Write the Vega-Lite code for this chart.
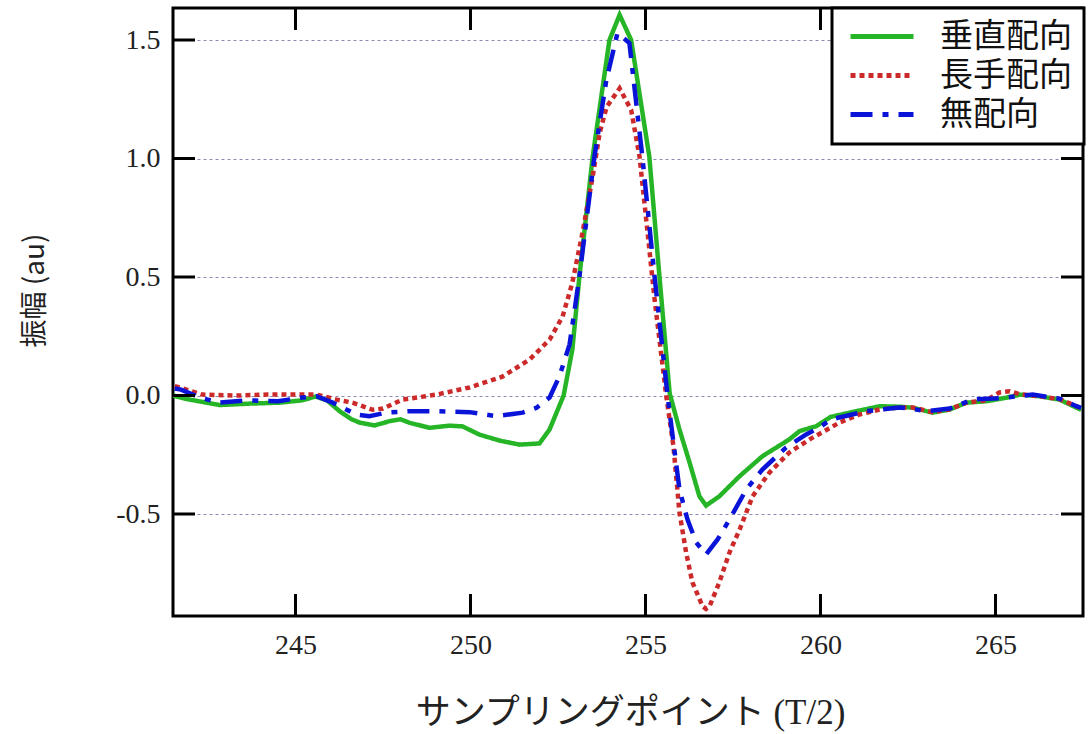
{
  "$schema": "https://vega.github.io/schema/vega-lite/v6.json",
  "width": 910,
  "height": 608,
  "autosize": {"type": "none"},
  "padding": {"left": 173, "top": 8, "right": 9, "bottom": 118},
  "background": "white",
  "config": {
    "view": {"stroke": "black", "strokeWidth": 3},
    "font": "Liberation Serif"
  },
  "data": {
    "values": [
      {"s": "垂直配向", "x": 241.5, "y": 0.0},
      {"s": "垂直配向", "x": 241.9, "y": -0.015},
      {"s": "垂直配向", "x": 242.83, "y": -0.04},
      {"s": "垂直配向", "x": 243.69, "y": -0.034},
      {"s": "垂直配向", "x": 244.54, "y": -0.03},
      {"s": "垂直配向", "x": 245.2, "y": -0.02},
      {"s": "垂直配向", "x": 245.57, "y": -0.004},
      {"s": "垂直配向", "x": 245.9, "y": -0.02},
      {"s": "垂直配向", "x": 246.26, "y": -0.066},
      {"s": "垂直配向", "x": 246.6, "y": -0.1},
      {"s": "垂直配向", "x": 246.83, "y": -0.114},
      {"s": "垂直配向", "x": 247.26, "y": -0.126},
      {"s": "垂直配向", "x": 247.69, "y": -0.108},
      {"s": "垂直配向", "x": 248.0, "y": -0.1},
      {"s": "垂直配向", "x": 248.26, "y": -0.115},
      {"s": "垂直配向", "x": 248.83, "y": -0.136},
      {"s": "垂直配向", "x": 249.4, "y": -0.127},
      {"s": "垂直配向", "x": 249.77, "y": -0.13},
      {"s": "垂直配向", "x": 250.26, "y": -0.165},
      {"s": "垂直配向", "x": 250.83, "y": -0.19},
      {"s": "垂直配向", "x": 251.4, "y": -0.207},
      {"s": "垂直配向", "x": 251.97, "y": -0.202},
      {"s": "垂直配向", "x": 252.26, "y": -0.143},
      {"s": "垂直配向", "x": 252.66, "y": 0.0},
      {"s": "垂直配向", "x": 252.91, "y": 0.194},
      {"s": "垂直配向", "x": 253.11, "y": 0.5},
      {"s": "垂直配向", "x": 253.49, "y": 1.007},
      {"s": "垂直配向", "x": 253.97, "y": 1.5},
      {"s": "垂直配向", "x": 254.26, "y": 1.606},
      {"s": "垂直配向", "x": 254.59, "y": 1.5},
      {"s": "垂直配向", "x": 255.11, "y": 1.007},
      {"s": "垂直配向", "x": 255.4, "y": 0.5},
      {"s": "垂直配向", "x": 255.69, "y": 0.01},
      {"s": "垂直配向", "x": 255.97, "y": -0.143},
      {"s": "垂直配向", "x": 256.26, "y": -0.283},
      {"s": "垂直配向", "x": 256.54, "y": -0.425},
      {"s": "垂直配向", "x": 256.73, "y": -0.464},
      {"s": "垂直配向", "x": 257.11, "y": -0.425},
      {"s": "垂直配向", "x": 257.69, "y": -0.34},
      {"s": "垂直配向", "x": 258.34, "y": -0.256},
      {"s": "垂直配向", "x": 259.11, "y": -0.185},
      {"s": "垂直配向", "x": 259.4, "y": -0.15},
      {"s": "垂直配向", "x": 259.88, "y": -0.129},
      {"s": "垂直配向", "x": 260.29, "y": -0.09},
      {"s": "垂直配向", "x": 261.02, "y": -0.066},
      {"s": "垂直配向", "x": 261.69, "y": -0.045},
      {"s": "垂直配向", "x": 262.26, "y": -0.047},
      {"s": "垂直配向", "x": 262.63, "y": -0.051},
      {"s": "垂直配向", "x": 263.2, "y": -0.072},
      {"s": "垂直配向", "x": 263.69, "y": -0.059},
      {"s": "垂直配向", "x": 264.17, "y": -0.03},
      {"s": "垂直配向", "x": 264.74, "y": -0.024},
      {"s": "垂直配向", "x": 265.31, "y": -0.009},
      {"s": "垂直配向", "x": 265.69, "y": 0.004},
      {"s": "垂直配向", "x": 266.26, "y": -0.003},
      {"s": "垂直配向", "x": 266.83, "y": -0.017},
      {"s": "垂直配向", "x": 267.31, "y": -0.051},
      {"s": "垂直配向", "x": 267.45, "y": -0.06},

      {"s": "長手配向", "x": 241.55, "y": 0.04},
      {"s": "長手配向", "x": 241.69, "y": 0.034},
      {"s": "長手配向", "x": 242.34, "y": 0.004},
      {"s": "長手配向", "x": 243.3, "y": 0.0},
      {"s": "長手配向", "x": 244.2, "y": 0.004},
      {"s": "長手配向", "x": 245.2, "y": 0.004},
      {"s": "長手配向", "x": 245.6, "y": 0.004},
      {"s": "長手配向", "x": 246.17, "y": -0.017},
      {"s": "長手配向", "x": 246.63, "y": -0.03},
      {"s": "長手配向", "x": 247.2, "y": -0.06},
      {"s": "長手配向", "x": 247.5, "y": -0.055},
      {"s": "長手配向", "x": 248.06, "y": -0.017},
      {"s": "長手配向", "x": 249.03, "y": 0.004},
      {"s": "長手配向", "x": 249.97, "y": 0.034},
      {"s": "長手配向", "x": 250.91, "y": 0.08},
      {"s": "長手配向", "x": 251.69, "y": 0.152},
      {"s": "長手配向", "x": 252.26, "y": 0.236},
      {"s": "長手配向", "x": 252.63, "y": 0.333},
      {"s": "長手配向", "x": 252.91, "y": 0.476},
      {"s": "長手配向", "x": 253.2, "y": 0.687},
      {"s": "長手配向", "x": 253.49, "y": 0.923},
      {"s": "長手配向", "x": 253.69, "y": 1.108},
      {"s": "長手配向", "x": 253.89, "y": 1.218},
      {"s": "長手配向", "x": 254.26, "y": 1.296},
      {"s": "長手配向", "x": 254.59, "y": 1.205},
      {"s": "長手配向", "x": 254.83, "y": 1.007},
      {"s": "長手配向", "x": 255.06, "y": 0.687},
      {"s": "長手配向", "x": 255.26, "y": 0.405},
      {"s": "長手配向", "x": 255.6, "y": -0.01},
      {"s": "長手配向", "x": 255.8, "y": -0.215},
      {"s": "長手配向", "x": 255.97, "y": -0.493},
      {"s": "長手配向", "x": 256.16, "y": -0.662},
      {"s": "長手配向", "x": 256.34, "y": -0.788},
      {"s": "長手配向", "x": 256.63, "y": -0.889},
      {"s": "長手配向", "x": 256.73, "y": -0.9},
      {"s": "長手配向", "x": 256.83, "y": -0.889},
      {"s": "長手配向", "x": 257.11, "y": -0.788},
      {"s": "長手配向", "x": 257.4, "y": -0.662},
      {"s": "長手配向", "x": 257.69, "y": -0.565},
      {"s": "長手配向", "x": 258.06, "y": -0.425},
      {"s": "長手配向", "x": 258.54, "y": -0.325},
      {"s": "長手配向", "x": 259.11, "y": -0.24},
      {"s": "長手配向", "x": 259.69, "y": -0.185},
      {"s": "長手配向", "x": 260.17, "y": -0.145},
      {"s": "長手配向", "x": 260.54, "y": -0.114},
      {"s": "長手配向", "x": 261.11, "y": -0.08},
      {"s": "長手配向", "x": 261.69, "y": -0.059},
      {"s": "長手配向", "x": 262.26, "y": -0.05},
      {"s": "長手配向", "x": 262.63, "y": -0.05},
      {"s": "長手配向", "x": 263.2, "y": -0.07},
      {"s": "長手配向", "x": 263.69, "y": -0.058},
      {"s": "長手配向", "x": 264.17, "y": -0.03},
      {"s": "長手配向", "x": 264.74, "y": -0.02},
      {"s": "長手配向", "x": 265.11, "y": 0.013},
      {"s": "長手配向", "x": 265.4, "y": 0.018},
      {"s": "長手配向", "x": 265.69, "y": 0.006},
      {"s": "長手配向", "x": 266.26, "y": -0.003},
      {"s": "長手配向", "x": 266.83, "y": -0.015},
      {"s": "長手配向", "x": 267.31, "y": -0.045},
      {"s": "長手配向", "x": 267.45, "y": -0.055},

      {"s": "無配向", "x": 241.55, "y": 0.03},
      {"s": "無配向", "x": 241.73, "y": 0.025},
      {"s": "無配向", "x": 242.26, "y": -0.008},
      {"s": "無配向", "x": 242.83, "y": -0.03},
      {"s": "無配向", "x": 243.6, "y": -0.02},
      {"s": "無配向", "x": 244.5, "y": -0.024},
      {"s": "無配向", "x": 245.2, "y": -0.008},
      {"s": "無配向", "x": 245.6, "y": -0.003},
      {"s": "無配向", "x": 246.06, "y": -0.03},
      {"s": "無配向", "x": 246.74, "y": -0.08},
      {"s": "無配向", "x": 247.11, "y": -0.087},
      {"s": "無配向", "x": 247.6, "y": -0.072},
      {"s": "無配向", "x": 248.26, "y": -0.066},
      {"s": "無配向", "x": 249.11, "y": -0.066},
      {"s": "無配向", "x": 249.97, "y": -0.07},
      {"s": "無配向", "x": 250.74, "y": -0.087},
      {"s": "無配向", "x": 251.49, "y": -0.072},
      {"s": "無配向", "x": 251.89, "y": -0.051},
      {"s": "無配向", "x": 252.26, "y": -0.008},
      {"s": "無配向", "x": 252.54, "y": 0.081},
      {"s": "無配向", "x": 252.83, "y": 0.215},
      {"s": "無配向", "x": 253.11, "y": 0.5},
      {"s": "無配向", "x": 253.54, "y": 1.007},
      {"s": "無配向", "x": 253.88, "y": 1.33},
      {"s": "無配向", "x": 254.2, "y": 1.53},
      {"s": "無配向", "x": 254.54, "y": 1.487},
      {"s": "無配向", "x": 254.91, "y": 1.007},
      {"s": "無配向", "x": 255.26, "y": 0.5},
      {"s": "無配向", "x": 255.63, "y": 0.0},
      {"s": "無配向", "x": 255.69, "y": -0.072},
      {"s": "無配向", "x": 255.97, "y": -0.396},
      {"s": "無配向", "x": 256.2, "y": -0.523},
      {"s": "無配向", "x": 256.45, "y": -0.62},
      {"s": "無配向", "x": 256.73, "y": -0.67},
      {"s": "無配向", "x": 257.06, "y": -0.607},
      {"s": "無配向", "x": 257.4, "y": -0.523},
      {"s": "無配向", "x": 257.88, "y": -0.396},
      {"s": "無配向", "x": 258.34, "y": -0.312},
      {"s": "無配向", "x": 259.02, "y": -0.219},
      {"s": "無配向", "x": 259.59, "y": -0.164},
      {"s": "無配向", "x": 259.97, "y": -0.135},
      {"s": "無配向", "x": 260.29, "y": -0.101},
      {"s": "無配向", "x": 261.3, "y": -0.066},
      {"s": "無配向", "x": 262.26, "y": -0.05},
      {"s": "無配向", "x": 262.73, "y": -0.059},
      {"s": "無配向", "x": 263.0, "y": -0.066},
      {"s": "無配向", "x": 263.69, "y": -0.055},
      {"s": "無配向", "x": 264.34, "y": -0.017},
      {"s": "無配向", "x": 265.2, "y": -0.01},
      {"s": "無配向", "x": 266.06, "y": 0.004},
      {"s": "無配向", "x": 266.83, "y": -0.013},
      {"s": "無配向", "x": 267.31, "y": -0.045},
      {"s": "無配向", "x": 267.45, "y": -0.052}
    ]
  },
  "layer": [
    {
      "mark": {"type": "line", "strokeWidth": 4.5, "clip": true},
      "encoding": {
        "x": {
          "field": "x", "type": "quantitative",
          "scale": {"domain": [241.5, 267.5], "nice": false, "zero": false},
          "axis": {
            "values": [245, 250, 255, 260, 265],
            "title": "サンプリングポイント (T/2)",
            "titleFont": "Liberation Serif, Noto Sans CJK JP",
            "titleFontSize": 35, "titleFontWeight": "normal", "titleColor": "#222",
            "titleX": 457, "titleY": 96, "titleBaseline": "middle",
            "grid": false, "domain": false, "ticks": false,
            "labelFont": "Liberation Serif", "labelFontSize": 28, "labelColor": "#222",
            "labelPadding": 15
          }
        },
        "y": {
          "field": "y", "type": "quantitative",
          "scale": {"domain": [-0.93, 1.635], "nice": false, "zero": false},
          "axis": {
            "values": [-0.5, 0, 0.5, 1.0, 1.5],
            "labelExpr": "replace(format(datum.value, '.1f'), '−', '-')",
            "title": "振幅 (au)",
            "titleFont": "Noto Sans CJK JP",
            "titleFontSize": 28, "titleFontWeight": "normal", "titleColor": "#222",
            "titleX": -138, "titleY": 282, "titleAlign": "center", "titleBaseline": "middle",
            "grid": true, "gridDash": [3, 3], "gridColor": "#8a8ab4", "gridWidth": 1,
            "domain": false, "ticks": false,
            "labelFont": "Liberation Serif", "labelFontSize": 28, "labelColor": "#222",
            "labelPadding": 13
          }
        },
        "color": {
          "field": "s", "type": "nominal",
          "scale": {"domain": ["垂直配向", "長手配向", "無配向"], "range": ["#26b526", "#cc2a2a", "#0a14d8"]},
          "legend": {
            "title": null, "orient": "none", "legendX": 659, "legendY": 0,
            "strokeColor": "black", "fillColor": "white",
            "padding": 12, "symbolType": "M-1,0H5.3", "symbolSize": 400, "symbolStrokeWidth": 5,
            "labelFont": "Noto Sans CJK JP", "labelFontSize": 33, "labelColor": "#111",
            "labelLimit": 300, "rowPadding": 5, "labelOffset": 63,
            "encode": {"legend": {"update": {"strokeWidth": {"value": 3}}}}
          }
        },
        "strokeDash": {
          "field": "s", "type": "nominal",
          "scale": {"domain": ["垂直配向", "長手配向", "無配向"], "range": [[1, 0], [5, 4], [22, 10, 6, 10]]},
          "legend": null
        }
      }
    },
    {
      "data": {"values": [{"t": 245}, {"t": 250}, {"t": 255}, {"t": 260}, {"t": 265}]},
      "mark": {"type": "tick", "orient": "vertical", "size": 44, "thickness": 3, "color": "black", "opacity": 1, "clip": true},
      "encoding": {
        "x": {"field": "t", "type": "quantitative", "scale": {"domain": [241.5, 267.5], "nice": false, "zero": false}},
        "y": {"datum": -0.93, "type": "quantitative", "scale": {"domain": [-0.93, 1.635], "nice": false, "zero": false}}
      }
    },
    {
      "data": {"values": [{"t": 245}, {"t": 250}, {"t": 255}, {"t": 260}, {"t": 265}]},
      "mark": {"type": "tick", "orient": "vertical", "size": 44, "thickness": 3, "color": "black", "opacity": 1, "clip": true},
      "encoding": {
        "x": {"field": "t", "type": "quantitative", "scale": {"domain": [241.5, 267.5], "nice": false, "zero": false}},
        "y": {"datum": 1.635, "type": "quantitative", "scale": {"domain": [-0.93, 1.635], "nice": false, "zero": false}}
      }
    },
    {
      "data": {"values": [{"t": -0.5}, {"t": 0}, {"t": 0.5}, {"t": 1.0}, {"t": 1.5}]},
      "mark": {"type": "tick", "orient": "horizontal", "size": 44, "thickness": 3, "color": "black", "opacity": 1, "clip": true},
      "encoding": {
        "y": {"field": "t", "type": "quantitative", "scale": {"domain": [-0.93, 1.635], "nice": false, "zero": false}},
        "x": {"datum": 241.5, "type": "quantitative", "scale": {"domain": [241.5, 267.5], "nice": false, "zero": false}}
      }
    },
    {
      "data": {"values": [{"t": -0.5}, {"t": 0}, {"t": 0.5}, {"t": 1.0}, {"t": 1.5}]},
      "mark": {"type": "tick", "orient": "horizontal", "size": 44, "thickness": 3, "color": "black", "opacity": 1, "clip": true},
      "encoding": {
        "y": {"field": "t", "type": "quantitative", "scale": {"domain": [-0.93, 1.635], "nice": false, "zero": false}},
        "x": {"datum": 267.5, "type": "quantitative", "scale": {"domain": [241.5, 267.5], "nice": false, "zero": false}}
      }
    }
  ]
}
